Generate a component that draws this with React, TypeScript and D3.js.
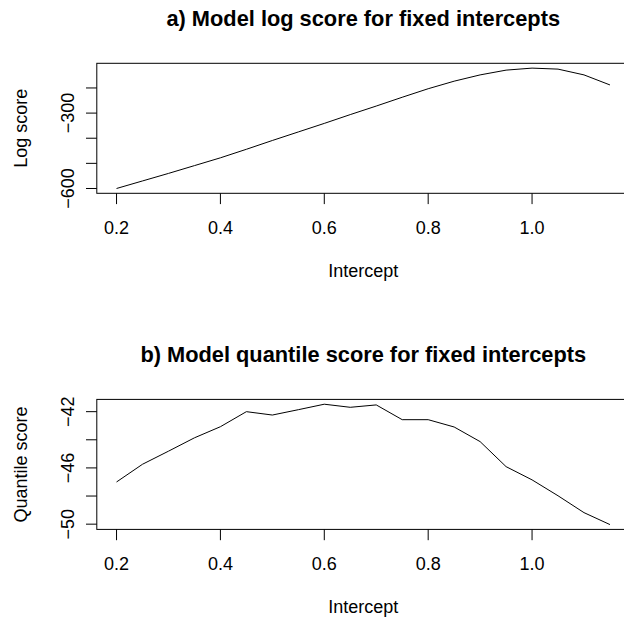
import React from 'react';
import * as d3 from 'd3';

// intercept values on the x axis
const intercepts = [0.2, 0.25, 0.3, 0.35, 0.4, 0.45, 0.5, 0.55, 0.6, 0.65, 0.7, 0.75, 0.8, 0.85, 0.9, 0.95, 1.0, 1.05, 1.1, 1.15];

// a) log score
const logScore = [-600, -570, -540, -509, -478, -444, -409, -375, -341, -306, -272, -237, -203, -173, -148, -129, -121, -125, -148, -188];

// b) quantile score
const quantileScore = [-47.0, -45.74, -44.81, -43.86, -43.07, -42.0, -42.24, -41.86, -41.47, -41.69, -41.52, -42.57, -42.57, -43.09, -44.13, -45.91, -46.85, -47.98, -49.18, -50.03];

const xTicks = [0.2, 0.4, 0.6, 0.8, 1.0];
const logTicks = [-600, -500, -400, -300, -200];
const logTickLabels = [-600, -300];
const quantileTicks = [-50, -48, -46, -44, -42];
const quantileTickLabels = [-50, -46, -42];

const W = 624;
const H = 623;
const LEFT = 96.8;
const RIGHT = 629.7;
const LINE = 21.7; // one margin line in px
const TICK = 10.8;
const FONT = '"Liberation Sans", Arial, Helvetica, sans-serif';

// R style axis range: data range extended by 4% on both sides
const rRange = (vals: number[]) => {
  const [lo, hi] = d3.extent(vals) as [number, number];
  const pad = (hi - lo) * 0.04;
  return [lo - pad, hi + pad];
};

const fmt = (v: number) => (v < 0 ? '\u2212' + Math.abs(v) : String(v));

type PanelProps = {
  title: string;
  yLabel: string;
  values: number[];
  yTicks: number[];
  yLabels: number[];
  top: number;
  bottom: number;
};

const Panel = ({ title, yLabel, values, yTicks, yLabels, top, bottom }: PanelProps) => {
  const x = d3.scaleLinear().domain(rRange(intercepts)).range([LEFT, RIGHT]);
  const y = d3.scaleLinear().domain(rRange(values)).range([bottom, top]);
  const line = d3.line<number>()
    .x((_, i) => x(intercepts[i]))
    .y(d => y(d));
  const cx = (LEFT + RIGHT) / 2;
  const cy = (top + bottom) / 2;

  return (
    <g>
      <text x={cx} y={top - 37} textAnchor="middle" fontWeight="bold" fontSize={21.8}>{title}</text>

      {/* plot box */}
      <rect x={LEFT} y={top} width={RIGHT - LEFT} height={bottom - top} fill="none" stroke="#000" strokeWidth={1} />

      {/* data line */}
      <path d={line(values) || ''} fill="none" stroke="#000" strokeWidth={1} />

      {/* x axis */}
      {xTicks.map(t => (
        <g key={'x' + t}>
          <line x1={x(t)} x2={x(t)} y1={bottom} y2={bottom + TICK} stroke="#000" />
          <text x={x(t)} y={bottom + 40.7} textAnchor="middle" fontSize={18}>{t.toFixed(1)}</text>
        </g>
      ))}
      <text x={cx} y={bottom + 84} textAnchor="middle" fontSize={18}>Intercept</text>

      {/* y axis */}
      {yTicks.map(t => (
        <line key={'y' + t} x1={LEFT - TICK} x2={LEFT} y1={y(t)} y2={y(t)} stroke="#000" />
      ))}
      {yLabels.map(t => (
        <text key={'yl' + t} transform={`translate(${LEFT - LINE * 1.07},${y(t)}) rotate(-90)`} textAnchor="middle" fontSize={18}>{fmt(t)}</text>
      ))}
      <text transform={`translate(${LEFT - LINE * 3.2},${cy}) rotate(-90)`} textAnchor="middle" fontSize={18}>{yLabel}</text>
    </g>
  );
};

export default function App() {
  return (
    <svg width={W} height={H} style={{ position: 'absolute', left: 0, top: 0, background: '#fff' }} fontFamily={FONT}>
      <rect width={W} height={H} fill="#fff" />
      <Panel
        title="a) Model log score for fixed intercepts"
        yLabel="Log score"
        values={logScore}
        yTicks={logTicks}
        yLabels={logTickLabels}
        top={63.3}
        bottom={193.3}
      />
      <Panel
        title="b) Model quantile score for fixed intercepts"
        yLabel="Quantile score"
        values={quantileScore}
        yTicks={quantileTicks}
        yLabels={quantileTickLabels}
        top={399.4}
        bottom={529.4}
      />
    </svg>
  );
}
